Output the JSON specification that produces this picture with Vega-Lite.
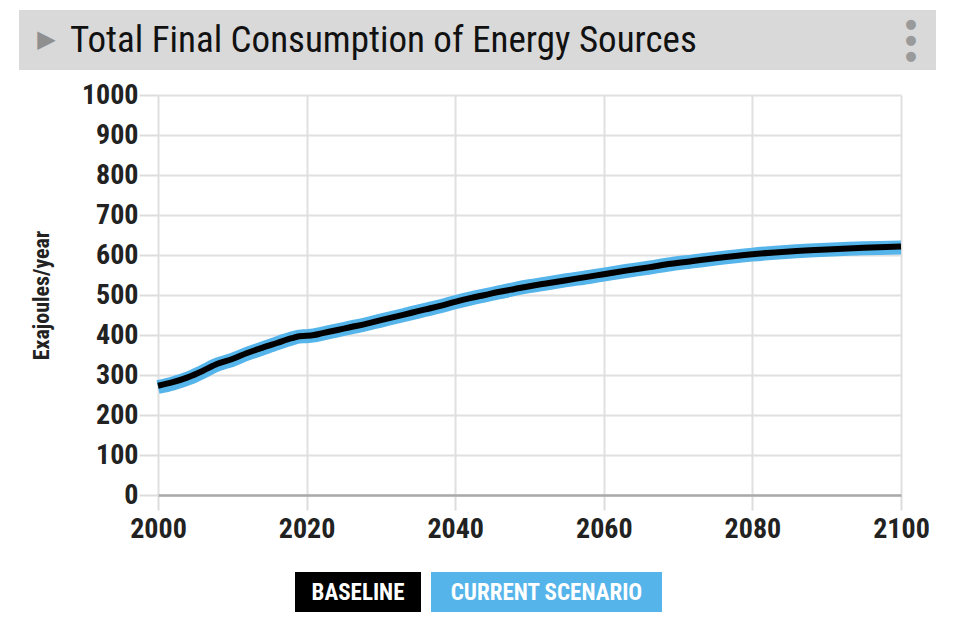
{
  "$schema": "https://vega.github.io/schema/vega-lite/v6.json",
  "padding": {"left": 19, "top": 10, "right": 0, "bottom": 0},
  "background": "white",
  "config": {
    "view": {"stroke": null},
    "font": "Roboto Condensed, Liberation Sans Narrow, DejaVu Sans Condensed, Roboto, sans-serif"
  },
  "spacing": 11,
  "vconcat": [
    {
      "width": 917,
      "height": 60,
      "view": {"fill": "#d9d9d9", "stroke": null},
      "data": {"values": [{"title": "Total Final Consumption of Energy Sources", "icon": "▶", "menu": "●\n●\n●"}]},
      "layer": [
        {
          "mark": {"type": "text", "align": "left", "baseline": "middle", "dx": -407.5, "dy": 1, "fontSize": 37, "color": "#111111"},
          "encoding": {"text": {"field": "title"}}
        },
        {
          "mark": {"type": "text", "align": "center", "baseline": "middle", "dx": -431, "fontSize": 24, "color": "#8f8f8f", "font": "DejaVu Sans"},
          "encoding": {"text": {"field": "icon"}}
        },
        {
          "mark": {"type": "text", "align": "center", "baseline": "middle", "dx": 433.5, "dy": -16, "fontSize": 13, "lineHeight": 16, "lineBreak": "\n", "color": "#9a9a9a", "font": "DejaVu Sans"},
          "encoding": {"text": {"field": "menu"}}
        }
      ]
    },
    {
      "spacing": 0,
      "hconcat": [
        {"width": 11, "height": 400, "data": {"values": []}, "mark": "point"},
        {
          "width": 743,
          "height": 400,
          "data": {
            "values": [
              {"year": 2000, "series": "Current Scenario", "value": 270},
              {"year": 2002, "series": "Current Scenario", "value": 279},
              {"year": 2004, "series": "Current Scenario", "value": 291},
              {"year": 2006, "series": "Current Scenario", "value": 308},
              {"year": 2008, "series": "Current Scenario", "value": 326},
              {"year": 2010, "series": "Current Scenario", "value": 338},
              {"year": 2012, "series": "Current Scenario", "value": 353},
              {"year": 2014, "series": "Current Scenario", "value": 366},
              {"year": 2016, "series": "Current Scenario", "value": 379},
              {"year": 2018, "series": "Current Scenario", "value": 391},
              {"year": 2019, "series": "Current Scenario", "value": 396},
              {"year": 2020, "series": "Current Scenario", "value": 397},
              {"year": 2021, "series": "Current Scenario", "value": 399},
              {"year": 2022, "series": "Current Scenario", "value": 403},
              {"year": 2024, "series": "Current Scenario", "value": 411},
              {"year": 2026, "series": "Current Scenario", "value": 419},
              {"year": 2028, "series": "Current Scenario", "value": 427},
              {"year": 2030, "series": "Current Scenario", "value": 436},
              {"year": 2032, "series": "Current Scenario", "value": 445},
              {"year": 2034, "series": "Current Scenario", "value": 454},
              {"year": 2036, "series": "Current Scenario", "value": 463},
              {"year": 2038, "series": "Current Scenario", "value": 472},
              {"year": 2040, "series": "Current Scenario", "value": 482},
              {"year": 2042, "series": "Current Scenario", "value": 491},
              {"year": 2044, "series": "Current Scenario", "value": 499},
              {"year": 2046, "series": "Current Scenario", "value": 507},
              {"year": 2048, "series": "Current Scenario", "value": 515},
              {"year": 2050, "series": "Current Scenario", "value": 522},
              {"year": 2052, "series": "Current Scenario", "value": 528},
              {"year": 2055, "series": "Current Scenario", "value": 537},
              {"year": 2058, "series": "Current Scenario", "value": 545},
              {"year": 2060, "series": "Current Scenario", "value": 551},
              {"year": 2063, "series": "Current Scenario", "value": 560},
              {"year": 2066, "series": "Current Scenario", "value": 568},
              {"year": 2069, "series": "Current Scenario", "value": 577},
              {"year": 2072, "series": "Current Scenario", "value": 584},
              {"year": 2075, "series": "Current Scenario", "value": 591},
              {"year": 2080, "series": "Current Scenario", "value": 601},
              {"year": 2085, "series": "Current Scenario", "value": 608},
              {"year": 2090, "series": "Current Scenario", "value": 613},
              {"year": 2095, "series": "Current Scenario", "value": 617},
              {"year": 2100, "series": "Current Scenario", "value": 619},
              {"year": 2000, "series": "Baseline", "value": 273},
              {"year": 2002, "series": "Baseline", "value": 282},
              {"year": 2004, "series": "Baseline", "value": 294},
              {"year": 2006, "series": "Baseline", "value": 310},
              {"year": 2008, "series": "Baseline", "value": 328},
              {"year": 2010, "series": "Baseline", "value": 340},
              {"year": 2012, "series": "Baseline", "value": 355},
              {"year": 2014, "series": "Baseline", "value": 368},
              {"year": 2016, "series": "Baseline", "value": 380},
              {"year": 2018, "series": "Baseline", "value": 392},
              {"year": 2019, "series": "Baseline", "value": 397},
              {"year": 2020, "series": "Baseline", "value": 398},
              {"year": 2021, "series": "Baseline", "value": 400},
              {"year": 2022, "series": "Baseline", "value": 404},
              {"year": 2024, "series": "Baseline", "value": 412},
              {"year": 2026, "series": "Baseline", "value": 420},
              {"year": 2028, "series": "Baseline", "value": 428},
              {"year": 2030, "series": "Baseline", "value": 437},
              {"year": 2032, "series": "Baseline", "value": 446},
              {"year": 2034, "series": "Baseline", "value": 455},
              {"year": 2036, "series": "Baseline", "value": 464},
              {"year": 2038, "series": "Baseline", "value": 473},
              {"year": 2040, "series": "Baseline", "value": 483},
              {"year": 2042, "series": "Baseline", "value": 492},
              {"year": 2044, "series": "Baseline", "value": 500},
              {"year": 2046, "series": "Baseline", "value": 508},
              {"year": 2048, "series": "Baseline", "value": 515},
              {"year": 2050, "series": "Baseline", "value": 522},
              {"year": 2052, "series": "Baseline", "value": 528},
              {"year": 2055, "series": "Baseline", "value": 537},
              {"year": 2058, "series": "Baseline", "value": 546},
              {"year": 2060, "series": "Baseline", "value": 552},
              {"year": 2063, "series": "Baseline", "value": 561},
              {"year": 2066, "series": "Baseline", "value": 569},
              {"year": 2069, "series": "Baseline", "value": 578},
              {"year": 2072, "series": "Baseline", "value": 585},
              {"year": 2075, "series": "Baseline", "value": 592},
              {"year": 2080, "series": "Baseline", "value": 602},
              {"year": 2085, "series": "Baseline", "value": 609},
              {"year": 2090, "series": "Baseline", "value": 614},
              {"year": 2095, "series": "Baseline", "value": 618},
              {"year": 2100, "series": "Baseline", "value": 621}
            ]
          },
          "encoding": {
            "x": {
              "field": "year",
              "type": "quantitative",
              "scale": {"domain": [2000, 2100], "nice": false, "zero": false},
              "axis": {
                "title": null,
                "values": [2000, 2020, 2040, 2060, 2080, 2100],
                "format": "d",
                "labelFontSize": 28,
                "labelFontWeight": "bold",
                "labelColor": "#222222",
                "labelPadding": 5,
                "labelFlush": false,
                "tickSize": 15,
                "tickColor": "#dddddd",
                "tickWidth": 2,
                "grid": true,
                "gridColor": "#e0e0e0",
                "gridWidth": 2,
                "domainColor": "#aaaaaa",
                "domainWidth": 2.5
              }
            },
            "y": {
              "field": "value",
              "type": "quantitative",
              "scale": {"domain": [0, 1000], "nice": false},
              "axis": {
                "title": "Exajoules/year",
                "titleFontSize": 22,
                "titleFontWeight": "bold",
                "titleColor": "#222222",
                "titleX": -105,
                "values": [0, 100, 200, 300, 400, 500, 600, 700, 800, 900, 1000],
                "format": "d",
                "labelFontSize": 28,
                "labelFontWeight": "bold",
                "labelColor": "#222222",
                "labelPadding": 1,
                "labelFlush": false,
                "tickSize": 19,
                "tickColor": "#dddddd",
                "tickWidth": 2,
                "grid": true,
                "gridColor": "#e0e0e0",
                "gridWidth": 2,
                "domain": false
              }
            }
          },
          "layer": [
            {
              "transform": [{"filter": "datum.series === 'Current Scenario'"}],
              "mark": {"type": "line", "color": "#55b4ea", "strokeWidth": 14, "interpolate": "monotone", "strokeCap": "butt"}
            },
            {
              "transform": [{"filter": "datum.series === 'Baseline'"}],
              "mark": {"type": "line", "color": "#000000", "strokeWidth": 6, "interpolate": "monotone", "strokeCap": "butt"}
            }
          ]
        }
      ]
    },
    {
      "spacing": 0,
      "vconcat": [
        {"width": 10, "height": 18, "data": {"values": []}, "mark": "point"},
        {
          "spacing": 10,
          "hconcat": [
            {"width": 266, "height": 40, "data": {"values": []}, "mark": "point"},
            {
              "width": 126,
              "height": 40,
              "view": {"fill": "#000000", "stroke": null},
              "data": {"values": [{"label": "BASELINE"}]},
              "mark": {"type": "text", "color": "#ffffff", "fontSize": 23, "fontWeight": "bold", "baseline": "middle", "align": "center", "dy": 1},
              "encoding": {"text": {"field": "label"}}
            },
            {
              "width": 231,
              "height": 40,
              "view": {"fill": "#55b4ea", "stroke": null},
              "data": {"values": [{"label": "CURRENT SCENARIO"}]},
              "mark": {"type": "text", "color": "#ffffff", "fontSize": 23, "fontWeight": "bold", "baseline": "middle", "align": "center", "dy": 1},
              "encoding": {"text": {"field": "label"}}
            }
          ]
        }
      ]
    }
  ]
}
